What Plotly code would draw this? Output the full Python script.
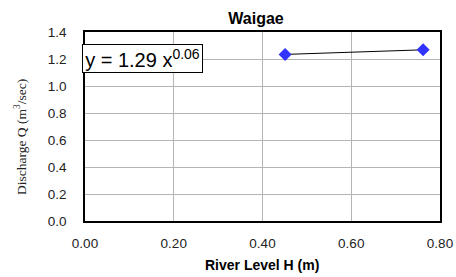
import plotly.graph_objects as go

river_level_h = [0.451, 0.762]
discharge_q = [1.234, 1.268]
x_ticks = [0.0, 0.2, 0.4, 0.6, 0.8]
x_tick_labels = ["0.00", "0.20", "0.40", "0.60", "0.80"]
y_ticks = [0.0, 0.2, 0.4, 0.6, 0.8, 1.0, 1.2, 1.4]
y_tick_labels = ["0.0", "0.2", "0.4", "0.6", "0.8", "1.0", "1.2", "1.4"]

W, H = 456, 277
PL, PR, PT, PB = 85, 440, 32, 221  # plot area in page pixels


def px_x(px):
    return (px - PL) / (PR - PL)


def px_y(py):
    return (PB - py) / (PB - PT)


fig = go.Figure()
fig.add_trace(go.Scatter(
    x=river_level_h, y=discharge_q, mode="lines+markers",
    line=dict(color="black", width=1),
    marker=dict(symbol="diamond", size=10, color="#3333ff"),
    showlegend=False,
))

fig.update_layout(
    width=W, height=H,
    margin=dict(l=PL, r=W - PR, t=PT, b=H - PB),
    paper_bgcolor="white", plot_bgcolor="white",
    font=dict(family="Liberation Sans, Arial", color="#222"),
    title=dict(text="<b>Waigae</b>", x=256 / W, xanchor="center",
               y=1 - 18 / H, yanchor="middle",
               font=dict(size=16, color="black", family="Liberation Sans, Arial")),
    xaxis=dict(range=[0, 0.8], tickvals=x_ticks, ticktext=x_tick_labels,
               showgrid=True, gridcolor="#b4b4b4", gridwidth=1,
               showline=True, linecolor="black", linewidth=1.5, mirror=True,
               ticks="outside", ticklen=9, tickcolor="rgba(0,0,0,0)",
               zeroline=False, tickfont=dict(size=13.5), automargin=False),
    yaxis=dict(range=[0, 1.4], tickvals=y_ticks, ticktext=y_tick_labels,
               showgrid=True, gridcolor="#b4b4b4", gridwidth=1,
               showline=True, linecolor="black", linewidth=1.5, mirror=True,
               ticks="outside", ticklen=14, tickcolor="rgba(0,0,0,0)",
               zeroline=False, tickfont=dict(size=13.5), automargin=False),
)

fig.add_annotation(
    x=px_x(262), y=px_y(265), xref="paper", yref="paper",
    xanchor="center", yanchor="middle", text="<b>River Level H (m)</b>", showarrow=False,
    font=dict(size=14, color="black", family="Liberation Sans, Arial"),
)

fig.add_annotation(
    x=px_x(20), y=px_y(137), xref="paper", yref="paper",
    xanchor="center", yanchor="middle", textangle=-90,
    text="Discharge Q (m<sup>3</sup>/sec)", showarrow=False,
    font=dict(size=13.5, color="#222", family="Liberation Serif, Times New Roman"),
)

fig.add_annotation(
    x=px_x(82), y=px_y(58.5), xref="paper", yref="paper", xanchor="left", yanchor="middle",
    text="y = 1.29 x<sup>0.06</sup>", showarrow=False, height=25, width=117, align="center",
    font=dict(size=20, color="black", family="Liberation Sans, Arial"),
    bordercolor="black", borderwidth=1, bgcolor="white", borderpad=1,
)

fig.write_html(
    "out.html",
    config={"displayModeBar": False},
    post_script="document.body.style.margin='0';document.documentElement.style.overflow='hidden';",
)
